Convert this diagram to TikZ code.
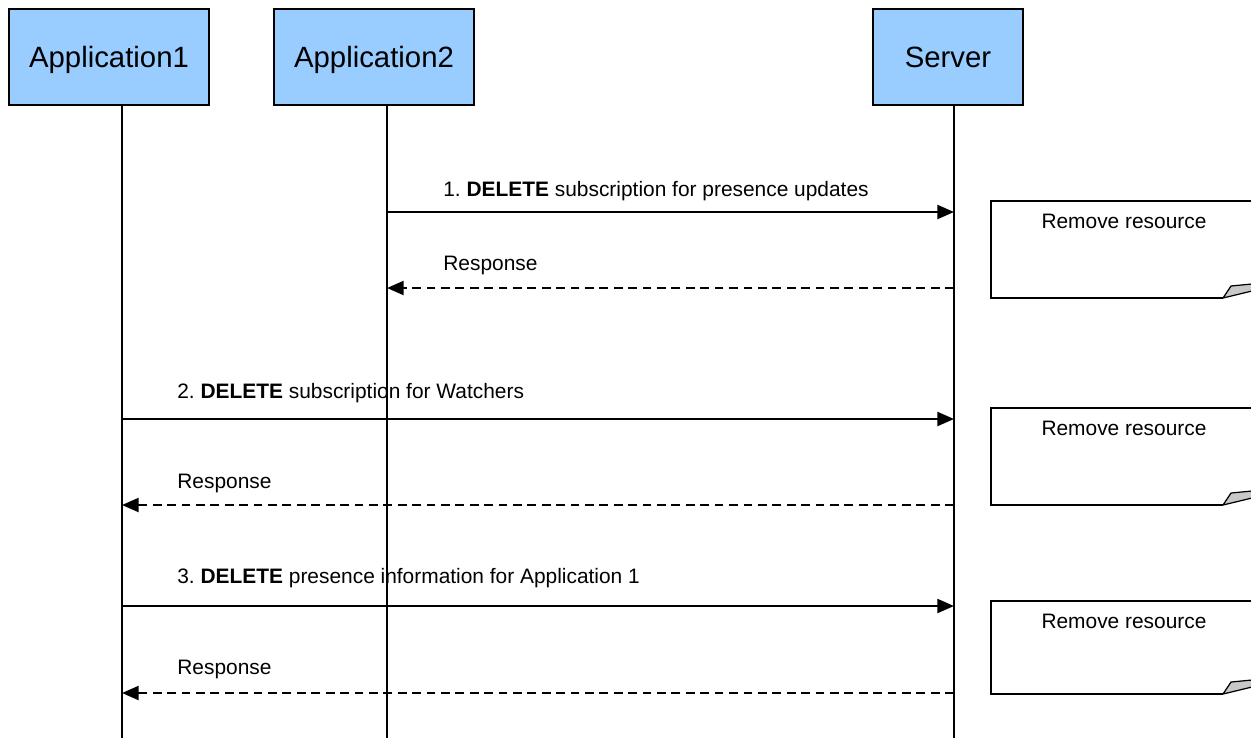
\documentclass[tikz,border=0pt]{standalone}
\usepackage{fontspec}
\setmainfont{Liberation Sans}
\usetikzlibrary{calc}
\usetikzlibrary{arrows.meta}
\definecolor{headblue}{RGB}{153,204,255}
\definecolor{flapgray}{RGB}{200,200,200}
\newcommand{\del}{\textbf{DELETE}}
\tikzset{
	head/.style={draw,fill=headblue,line width=.85pt,minimum height=1.92cm,inner sep=0pt,text height=12pt,text depth=0pt,font=\fontsize{16.7}{20}\selectfont},
	life/.style={line width=.85pt},
	msg/.style={line width=1.25pt,-{Triangle[length=9.5pt,width=8pt]}},
	reply/.style={msg,dash pattern=on 5pt off 3.2pt},
	lbl/.style={anchor=base west,inner sep=0pt,font=\fontsize{11.9}{14}\selectfont},
	notebox/.style={line width=.85pt},
}

\begin{document}
\begin{tikzpicture}[x=0.02cm,y=-0.02cm]
\useasboundingbox (0,0) rectangle (1251,738);
% participants
\node[head,minimum width=4cm] at (109,57) (app1) {Application1};
\node[head,minimum width=4cm] at (374,57) (app2) {Application2};
\node[head,minimum width=3cm] at (948,57) (srv) {Server};
\coordinate (app1 end) at (122,738);
\coordinate (app2 end) at (387,738);
\coordinate (srv end) at (954,738);
\draw[life] (app1.south -| app1 end) -- (app1 end);
\draw[life] (app2.south -| app2 end) -- (app2 end);
\draw[life] (srv.south -| srv end) -- (srv end);
% notes
\begin{scope}
\clip (0,0) rectangle (1251,738);
\foreach \t/\b in {201/298,408/505,601/694}{
	\draw[notebox] (1252,\t) -- (991,\t) -- (991,\b) -- (1223,\b);
	\draw[notebox,line width=.7pt,fill=flapgray] (1223,\b) -- (1231,\b-12) -- (1252,\b-14) -- (1252,\b-7) -- cycle;
	\node[font=\fontsize{11.9}{14}\selectfont] at (1124,\t+20) {Remove resource};
}
\end{scope}
% messages
\coordinate (a2m1) at (387,212);
\coordinate (svm1) at (954,212);
\coordinate (a2r1) at (387,288);
\coordinate (svr1) at (954,288);
\coordinate (a1m2) at (122,419);
\coordinate (svm2) at (954,419);
\coordinate (a1r2) at (122,505);
\coordinate (svr2) at (954,505);
\coordinate (a1m3) at (122,606);
\coordinate (svm3) at (954,606);
\coordinate (a1r3) at (122,693);
\coordinate (svr3) at (954,693);
\draw[msg] (a2m1) -- (svm1);
\draw[reply] (svr1) -- (a2r1);
\draw[msg] (a1m2) -- (svm2);
\draw[reply] (svr2) -- (a1r2);
\draw[msg] (a1m3) -- (svm3);
\draw[reply] (svr3) -- (a1r3);
% labels
\node[lbl] at (443,196) (l1) {1.\ \del{} subscription for presence updates};
\node[lbl] at (443,270) (r1) {Response};
\node[lbl] at (177,398) (l2) {2.\ \del{} subscription for Watchers};
\node[lbl] at (177,488) (r2) {Response};
\node[lbl] at (177,583) (l3) {3.\ \del{} presence information for Application 1};
\node[lbl] at (177,674) (r3) {Response};
\end{tikzpicture}
\end{document}
